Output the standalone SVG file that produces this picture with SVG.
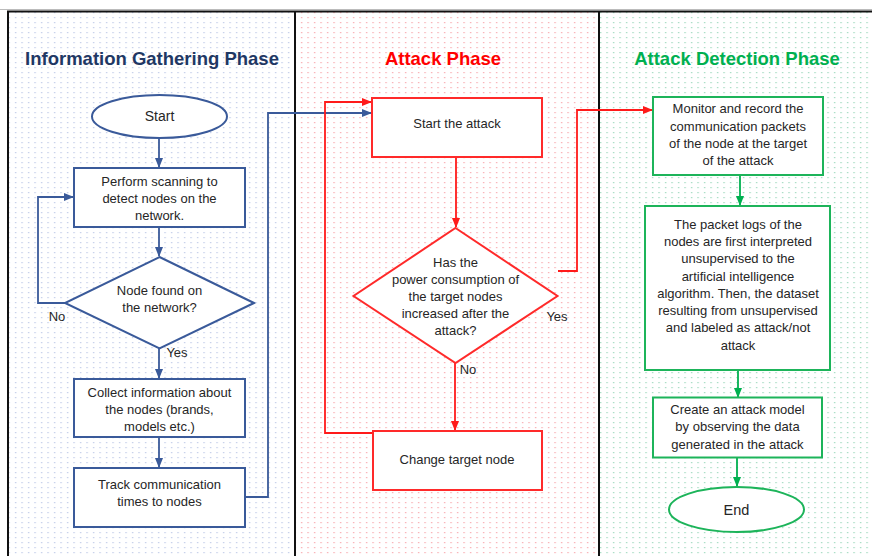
<svg xmlns="http://www.w3.org/2000/svg" width="872" height="556" viewBox="0 0 872 556">
<defs>
<pattern id="pb" width="6.5" height="5" patternUnits="userSpaceOnUse"><rect x="2" y="2" width="1.2" height="1.2" fill="#7f93cf" opacity="0.55"/></pattern>
<pattern id="pr" width="6.5" height="5" patternUnits="userSpaceOnUse"><rect x="2" y="2" width="1.2" height="1.2" fill="#f0505a" opacity="0.55"/></pattern>
<pattern id="pg" width="6.5" height="5" patternUnits="userSpaceOnUse"><rect x="2" y="2" width="1.2" height="1.2" fill="#3cb07a" opacity="0.55"/></pattern>
<marker id="ab" markerWidth="10" markerHeight="8" refX="9" refY="4" orient="auto" markerUnits="userSpaceOnUse"><path d="M0,0 L10,4 L0,8 Z" fill="#3a5a9a"/></marker>
<marker id="ar" markerWidth="10" markerHeight="8" refX="9" refY="4" orient="auto" markerUnits="userSpaceOnUse"><path d="M0,0 L10,4 L0,8 Z" fill="#ff1a1a"/></marker>
<marker id="ag" markerWidth="10" markerHeight="8" refX="9" refY="4" orient="auto" markerUnits="userSpaceOnUse"><path d="M0,0 L10,4 L0,8 Z" fill="#00b050"/></marker>
</defs>
<style>
.t{font-family:"Liberation Sans",Arial,sans-serif;font-size:13px;fill:#262626;text-anchor:middle}
.h{font-family:"Liberation Sans",Arial,sans-serif;font-size:18.5px;font-weight:bold;text-anchor:middle}
.b{fill:#fff;stroke:#3a5a9a;stroke-width:2}
.r{fill:#fff;stroke:#ff2a2a;stroke-width:2}
.g{fill:#fff;stroke:#1db45a;stroke-width:2}
.cb{fill:none;stroke:#3a5a9a;stroke-width:1.8}
.cr{fill:none;stroke:#ff1a1a;stroke-width:1.8}
.cg{fill:none;stroke:#00b050;stroke-width:1.8}
</style>
<rect width="872" height="556" fill="#fff"/>
<rect x="8" y="11" width="287" height="545" fill="url(#pb)"/>
<rect x="295" y="11" width="304" height="545" fill="url(#pr)"/>
<rect x="599" y="11" width="273" height="545" fill="url(#pg)"/>
<line x1="0" y1="9.5" x2="872" y2="9.5" stroke="#bbb" stroke-width="1"/>
<line x1="7" y1="11.5" x2="872" y2="11.5" stroke="#111" stroke-width="2"/>
<line x1="8" y1="11" x2="8" y2="556" stroke="#111" stroke-width="2"/>
<line x1="295" y1="11" x2="295" y2="556" stroke="#111" stroke-width="2"/>
<line x1="599" y1="11" x2="599" y2="556" stroke="#111" stroke-width="2"/>
<text class="h" x="152" y="65" fill="#1f3864">Information Gathering Phase</text>
<text class="h" x="443" y="65" fill="#ff0000">Attack Phase</text>
<text class="h" x="737" y="65" fill="#00b050">Attack Detection Phase</text>
<g id="connectors">
<path class="cb" d="M159,138 V167" marker-end="url(#ab)"/>
<path class="cb" d="M159,227 V256" marker-end="url(#ab)"/>
<path class="cb" d="M65,303 H38 V197 H73" marker-end="url(#ab)"/>
<path class="cb" d="M159,348 V378" marker-end="url(#ab)"/>
<path class="cb" d="M159,437 V467" marker-end="url(#ab)"/>
<path class="cb" d="M245,497 H268 V113 H371" marker-end="url(#ab)"/>
<path class="cr" d="M456,157 V227" marker-end="url(#ar)"/>
<path class="cr" d="M455,363 V430" marker-end="url(#ar)"/>
<path class="cr" d="M373,433 H325 V102 H371" marker-end="url(#ar)"/>
<path class="cr" d="M558,271 H577 V110 H652" marker-end="url(#ar)"/>
<path class="cg" d="M740,175 V205" marker-end="url(#ag)"/>
<path class="cg" d="M738,370 V397" marker-end="url(#ag)"/>
<path class="cg" d="M737,458 V486" marker-end="url(#ag)"/>
<text class="t" x="57" y="321">No</text>
<text class="t" x="177" y="357">Yes</text>
<text class="t" x="557" y="321">Yes</text>
<text class="t" x="468" y="374">No</text>
</g>
<g id="start"><ellipse class="b" cx="159.5" cy="116.5" rx="67.5" ry="21.5"/><text class="t" x="159.5" y="121" style="font-size:14px">Start</text></g>
<g id="scan"><rect class="b" x="74" y="168" width="171" height="59"/><text class="t" x="159.5" y="185.5">Perform scanning to</text><text class="t" x="159.5" y="202.5">detect nodes on the</text><text class="t" x="159.5" y="219.5">network.</text></g>
<g id="found"><path class="b" d="M159.5,257 L254,303 L159.5,348.5 L65,303 Z"/><text class="t" x="159.5" y="294.5">Node found on</text><text class="t" x="159.5" y="311.5">the network?</text></g>
<g id="collect"><rect class="b" x="74" y="379" width="171" height="58"/><text class="t" x="159.5" y="396.5">Collect information about</text><text class="t" x="159.5" y="413.5">the nodes (brands,</text><text class="t" x="159.5" y="431">models etc.)</text></g>
<g id="track"><rect class="b" x="74" y="468" width="171" height="59"/><text class="t" x="159.5" y="488.5">Track communication</text><text class="t" x="159.5" y="505.5">times to nodes</text></g>
<g id="startattack"><rect class="r" x="372" y="98" width="170" height="59"/><text class="t" x="457" y="127.5">Start the attack</text></g>
<g id="power"><path class="r" d="M455.5,228 L557.5,296 L455.5,363 L353.5,296 Z"/><text class="t" x="455.5" y="266.5">Has the</text><text class="t" x="455.5" y="284">power consumption of</text><text class="t" x="455.5" y="301">the target nodes</text><text class="t" x="455.5" y="318">increased after the</text><text class="t" x="455.5" y="335">attack?</text></g>
<g id="change"><rect class="r" x="373" y="431" width="169" height="59"/><text class="t" x="457" y="463.5">Change target node</text></g>
<g id="monitor"><rect class="g" x="653" y="97" width="170" height="78"/><text class="t" x="738" y="113">Monitor and record the</text><text class="t" x="738" y="130.5">communication packets</text><text class="t" x="738" y="148">of the node at the target</text><text class="t" x="738" y="165">of the attack</text></g>
<g id="logs"><rect class="g" x="645" y="206" width="185" height="164"/><text class="t" x="738" y="228.5">The packet logs of the</text><text class="t" x="738" y="246">nodes are first interpreted</text><text class="t" x="738" y="263">unsupervised to the</text><text class="t" x="738" y="280.5">artificial intelligence</text><text class="t" x="738" y="297.5">algorithm. Then, the dataset</text><text class="t" x="738" y="315">resulting from unsupervised</text><text class="t" x="738" y="332">and labeled as attack/not</text><text class="t" x="738" y="349.5">attack</text></g>
<g id="model"><rect class="g" x="653" y="397.5" width="169" height="60"/><text class="t" x="737.5" y="414">Create an attack model</text><text class="t" x="737.5" y="431">by observing the data</text><text class="t" x="737.5" y="448.5">generated in the attack</text></g>
<g id="end"><ellipse class="g" cx="736.5" cy="509.5" rx="67.5" ry="22.5"/><text class="t" x="736.5" y="514.5" style="font-size:14.5px">End</text></g>
</svg>
